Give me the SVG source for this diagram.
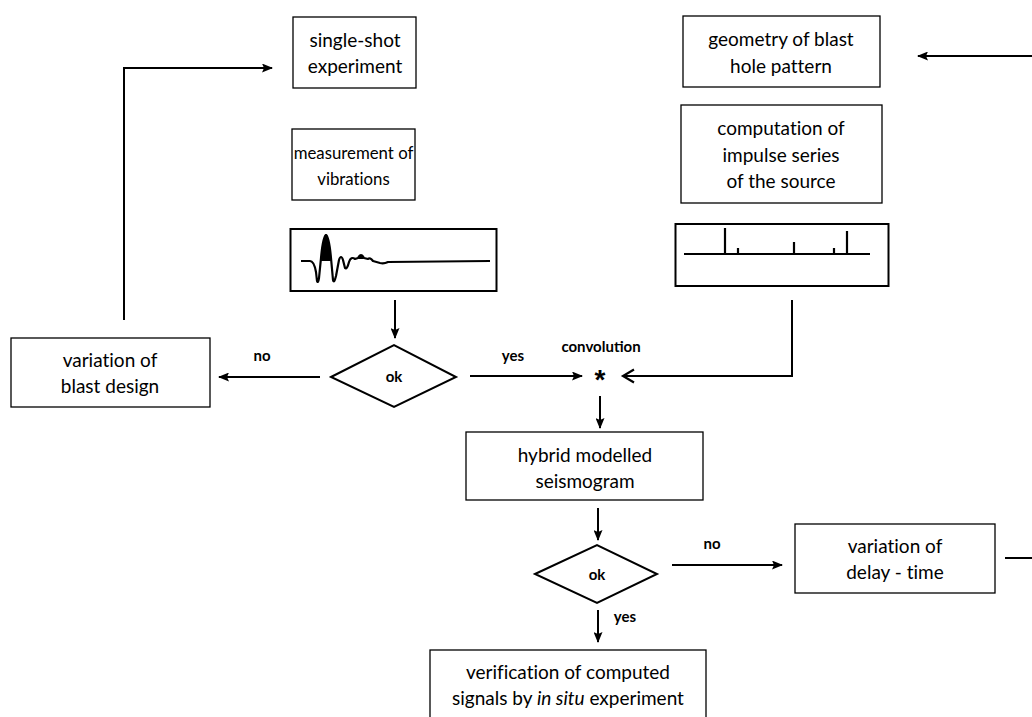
<svg xmlns="http://www.w3.org/2000/svg" width="1032" height="717" viewBox="0 0 1032 717">
<defs>
<style>
.box{fill:#fff;stroke:#000;stroke-width:1.3}
.t{font-family:Lato,"Open Sans","Liberation Sans",sans-serif;font-size:19px;text-anchor:middle;fill:#000;font-variant-ligatures:none}
.s{font-size:16.8px}
.b{font-family:Lato,"Liberation Sans",sans-serif;font-size:15px;font-weight:bold;text-anchor:middle;fill:#000}
.ln{fill:none;stroke:#000;stroke-width:2}
.sig{fill:none;stroke:#000;stroke-width:2.2;stroke-linejoin:round}
</style>
<marker id="ah" markerWidth="11" markerHeight="9" refX="10" refY="4.5" orient="auto" markerUnits="userSpaceOnUse">
<path d="M0,0 L11,4.5 L0,9 L2,4.5 Z" fill="#000"/>
</marker>
</defs>
<rect width="1032" height="717" fill="#fff"/>

<g id="connectors">
<path class="ln" d="M124,320 V68 H272" marker-end="url(#ah)"/>
<path class="ln" d="M1032,56 H918" marker-end="url(#ah)"/>
<path class="ln" d="M395,300 V338" marker-end="url(#ah)"/>
<path class="ln" d="M320,377 H219" marker-end="url(#ah)"/>
<path class="ln" d="M470,376 H582" marker-end="url(#ah)"/>
<path class="ln" d="M792,300 V376 H623"/>
<path d="M634,369.5 L623,376 L634,382.5" fill="none" stroke="#000" stroke-width="2.2"/>
<path class="ln" d="M600,396 V428" marker-end="url(#ah)"/>
<path class="ln" d="M598,508 V540" marker-end="url(#ah)"/>
<path class="ln" d="M672,565 H782" marker-end="url(#ah)"/>
<path class="ln" d="M1005,558 H1032"/>
<path class="ln" d="M598,610 V642" marker-end="url(#ah)"/>
<text class="b" x="262" y="361">no</text>
<text class="b" x="513" y="361">yes</text>
<text class="b" x="601" y="352">convolution</text>
<text class="b" x="712" y="549">no</text>
<text class="b" x="625" y="622">yes</text>
<text x="600" y="389" font-family="Liberation Sans,sans-serif" font-size="28" font-weight="bold" text-anchor="middle">*</text>
</g>

<g id="single-shot">
<rect class="box" x="293" y="17" width="123" height="71"/>
<text class="t" x="355" y="47">single-shot</text>
<text class="t" x="355" y="73">experiment</text>
</g>

<g id="measurement">
<rect class="box" x="292" y="129" width="123" height="71"/>
<text class="t s" x="353.5" y="159">measurement of</text>
<text class="t s" x="353.5" y="185">vibrations</text>
</g>

<g id="waveform">
<rect x="290.5" y="229" width="206" height="62" fill="#fff" stroke="#000" stroke-width="2"/>
<path class="sig" d="M301,261 L310,261 Q314,261 316,272 L317,281 Q318,284 319,278 L321,258 Q323,236 326,235 Q329,236 331,258 L333,280 Q334,284 336,276 L339,260 Q341,254 343,260 L345,268 Q347,270 349,262 Q351,256 355,259 L358,258 Q361,252 364,258 L368,259 Q370,257 373,261 L380,263 Q384,264 388,262 L490,261"/>
<path d="M321,261 Q323,235 326,234 Q329,235 331,261 Z" fill="#000"/>
<path d="M358,259 Q361,251 364,259 Z" fill="#000"/>
</g>

<g id="geometry">
<rect class="box" x="683" y="16" width="197" height="71"/>
<text class="t" x="781" y="46">geometry of blast</text>
<text class="t" x="781" y="73">hole pattern</text>
</g>

<g id="computation">
<rect class="box" x="681" y="105" width="201" height="98"/>
<text class="t" x="781" y="135">computation of</text>
<text class="t" x="781" y="162">impulse series</text>
<text class="t" x="781" y="188">of the source</text>
</g>

<g id="impulse">
<rect x="675.5" y="224" width="213" height="62" fill="#fff" stroke="#000" stroke-width="2"/>
<path class="sig" d="M684,254 H870 M725,254 V228 M738,254 V248 M794,254 V242 M834,254 V248 M847,254 V231"/>
</g>

<g id="blast-design">
<rect class="box" x="11" y="338" width="199" height="69"/>
<text class="t" x="110" y="367">variation of</text>
<text class="t" x="110" y="393">blast design</text>
</g>

<g id="ok1">
<polygon points="331,377 394,345 456,377 394,407" fill="#fff" stroke="#000" stroke-width="2"/>
<text class="b" x="394" y="382">ok</text>
</g>

<g id="hybrid">
<rect class="box" x="466" y="432" width="237" height="68"/>
<text class="t" x="585" y="462">hybrid modelled</text>
<text class="t" x="585" y="488">seismogram</text>
</g>

<g id="ok2">
<polygon points="535,574 597,545 657,574 597,603" fill="#fff" stroke="#000" stroke-width="2"/>
<text class="b" x="597" y="580">ok</text>
</g>

<g id="delay">
<rect class="box" x="795" y="524" width="200" height="69"/>
<text class="t" x="895" y="553">variation of</text>
<text class="t" x="895" y="579">delay - time</text>
</g>

<g id="verification">
<rect class="box" x="430" y="650" width="276" height="70"/>
<text class="t" x="568" y="679">verification of computed</text>
<text class="t" x="568" y="705">signals by <tspan font-style="italic">in situ</tspan> experiment</text>
</g>
</svg>
